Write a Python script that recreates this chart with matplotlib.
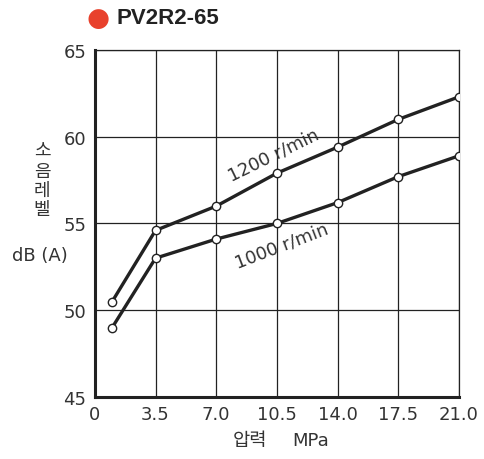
import matplotlib
matplotlib.use("Agg")
import matplotlib.pyplot as plt

pressure = [1.0, 3.5, 7.0, 10.5, 14.0, 17.5, 21.0]
noise_1200 = [50.5, 54.6, 56.0, 57.9, 59.4, 61.0, 62.3]
noise_1000 = [49.0, 53.0, 54.1, 55.0, 56.2, 57.7, 58.9]
xticks = [0, 3.5, 7.0, 10.5, 14.0, 17.5, 21.0]
xticklabels = ["0", "3.5", "7.0", "10.5", "14.0", "17.5", "21.0"]
yticks = [45, 50, 55, 60, 65]

plt.rcParams['font.family'] = ['DejaVu Sans', 'Noto Sans CJK KR']

fig = plt.figure(figsize=(4.84, 4.60), dpi=100)
ax = fig.add_axes([0.196, 0.135, 0.752, 0.754])

ax.set_xlim(0, 21)
ax.set_ylim(45, 65)
ax.set_xticks(xticks)
ax.set_xticklabels(xticklabels)
ax.set_yticks(yticks)
ax.grid(True, color='#222222', linewidth=0.9)
ax.set_axisbelow(True)
for s in ['top', 'right']:
    ax.spines[s].set_linewidth(0.9)
    ax.spines[s].set_color('#222222')
for s in ['left', 'bottom']:
    ax.spines[s].set_linewidth(2.2)
    ax.spines[s].set_color('#222222')
ax.tick_params(length=0, labelsize=13, colors='#333333', pad=6)

for ys in (noise_1200, noise_1000):
    ax.plot(pressure, ys, color='#222222', linewidth=2.4, marker='o',
            markersize=6, markerfacecolor='white', markeredgecolor='#222222',
            markeredgewidth=1.0, zorder=3)

ax.text(10.3, 58.95, "1200 r/min", rotation=26, ha='center', va='center',
        fontsize=13, color='#333333', zorder=4)
ax.text(10.8, 53.75, "1000 r/min", rotation=21, ha='center', va='center',
        fontsize=13, color='#333333', zorder=4)

# title
fig.text(98 / 484, 1 - 19 / 460, "●", color='#e8412c', fontsize=19,
         ha='center', va='center', family='DejaVu Sans')
fig.text(116 / 484, 1 - 19 / 460, "PV2R2-65", fontsize=16, fontweight='bold',
         ha='left', va='center', family='Liberation Sans', color='#222222')

# y label
for i, ch in enumerate(["소", "음", "레", "벨"]):
    fig.text(42 / 484, 1 - (152 + i * 19.5) / 460, ch, fontsize=13,
             ha='center', va='center', family='Noto Sans CJK KR',
             color='#333333')
fig.text(40 / 484, 1 - 256 / 460, "dB (A)", fontsize=13, ha='center',
         va='center', color='#333333')

# x label
fig.text(250 / 484, 1 - 446 / 460, "압력", fontsize=13.5, ha='center',
         va='baseline', color='#333333', family='Noto Sans CJK KR')
fig.text(311 / 484, 1 - 446 / 460, "MPa", fontsize=13, ha='center',
         va='baseline', color='#333333')

fig.savefig("out.png", dpi=100)
